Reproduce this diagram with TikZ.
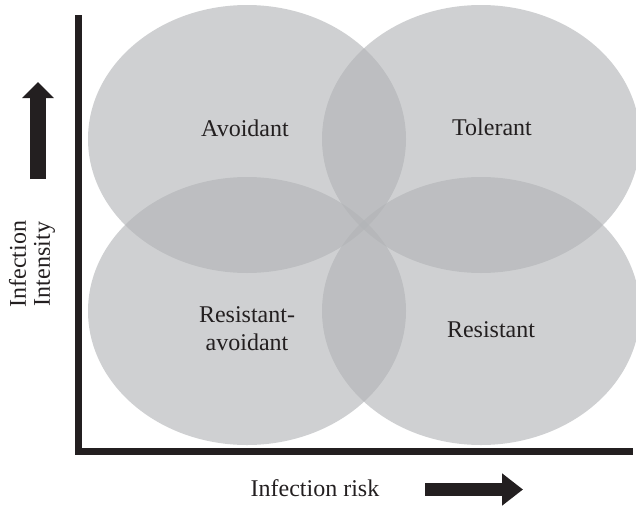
\documentclass[tikz,border=0pt]{standalone}
\usepackage{fontspec}
\setmainfont{Liberation Serif}
\usetikzlibrary{shapes.geometric,arrows.meta}
\definecolor{zonegray}{RGB}{177,179,182}
\definecolor{inkgray}{RGB}{35,31,32}
\tikzset{
  zone/.style={ellipse,fill=zonegray,fill opacity=0.614,draw=none,
    minimum width=318pt,minimum height=268pt,inner sep=0pt},
  zonelabel/.style={text=inkgray,font=\fontsize{24}{28}\selectfont,align=center,inner sep=0pt},
  axisline/.style={draw=inkgray,line width=7pt,line join=miter},
  bigarrow/.style={draw=inkgray}
}
\begin{document}
\begin{tikzpicture}[x=1pt,y=-1pt]
  \useasboundingbox (0,0) rectangle (636,506);
  % four overlapping zones
  \node[zone] (avoid) at (247,139) {};
  \node[zone] (toler) at (481,139) {};
  \node[zone] (resav) at (247,311) {};
  \node[zone] (resis) at (481,311) {};
  % labels
  \node[zonelabel,anchor=base] (lavoid) at (245,136) {Avoidant};
  \node[zonelabel,anchor=base] (ltoler) at (492,135) {Tolerant};
  \node[zonelabel] (lresav) at (247,329) {Resistant-\\avoidant};
  \node[zonelabel,anchor=base] (lresis) at (491,337) {Resistant};
  % axes
  \coordinate (ytop) at (78,15);
  \coordinate (origin) at (78,451.5);
  \coordinate (xend) at (633,451.5);
  \draw[axisline] (ytop) -- (origin) -- (xend);
  % axis titles and arrows
  \node[zonelabel,font=\fontsize{24}{24}\selectfont,rotate=90] (ytitle) at (32,264) {Infection\\Intensity};
  \node[zonelabel,anchor=base] (xtitle) at (315,496) {Infection risk};
  \coordinate (yarrs) at (38,179);
  \coordinate (yarre) at (38,82);
  \coordinate (xarrs) at (425,489.5);
  \coordinate (xarre) at (523,489.5);
  \draw[bigarrow,line width=16pt,-{Triangle[length=16pt,width=31pt]}] (yarrs) -- (yarre);
  \draw[bigarrow,line width=13pt,-{Triangle[length=21pt,width=31pt]}] (xarrs) -- (xarre);
\end{tikzpicture}
\end{document}
